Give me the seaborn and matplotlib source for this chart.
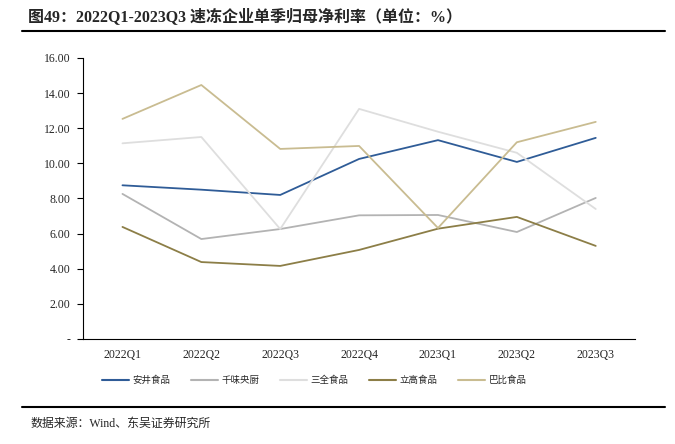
import pandas as pd
import numpy as np
import matplotlib
matplotlib.use("Agg")
import matplotlib.pyplot as plt
import seaborn as sns

# quarters and single-quarter net margin (%) per company
quarters = ["2022Q1", "2022Q2", "2022Q3", "2022Q4", "2023Q1", "2023Q2", "2023Q3"]
anjing = [8.75, 8.50, 8.20, 10.25, 11.32, 10.08, 11.45]
qianwei = [8.26, 5.69, 6.26, 7.04, 7.06, 6.09, 8.03]
sanquan = [11.14, 11.50, 6.26, 13.10, 11.80, 10.60, 7.40]
ligao = [6.38, 4.38, 4.16, 5.07, 6.28, 6.95, 5.30]
babi = [12.53, 14.46, 10.82, 10.99, 6.32, 11.20, 12.36]

names = ["安井食品", "千味央厨", "三全食品", "立高食品", "巴比食品"]
colors = ["#2F5C97", "#B3B3B3", "#DEDEDE", "#8C7E47", "#C9BC91"]

series = [anjing, qianwei, sanquan, ligao, babi]
df = pd.concat(
    [pd.DataFrame({"quarter": quarters, "value": v, "company": n}) for n, v in zip(names, series)],
    ignore_index=True,
)

sns.set_style("white")
plt.rcParams["font.family"] = ["Liberation Serif", "Noto Sans CJK SC"]

fig = plt.figure(figsize=(6.75, 4.44), dpi=100)
ax = fig.add_axes([0.123, 0.2365, 0.818, 0.633])

sns.lineplot(data=df, x="quarter", y="value", hue="company", palette=colors,
             hue_order=names, linewidth=1.3, ax=ax, legend=False)

ax.set_xlim(-0.5, 6.5)
ax.set_ylim(0, 16)
ax.set_yticks(np.arange(0, 17, 2))
ax.set_yticklabels(["-"] + [f"{v:.2f}" for v in np.arange(2, 17, 2)], fontsize=8.5)
ax.set_xticks(range(len(quarters)))
ax.set_xticklabels(quarters, fontsize=8.5)
ax.set_xticks(np.arange(-0.5, 7, 1), minor=True)
ax.tick_params(axis="x", which="major", length=0, pad=7)
ax.tick_params(axis="x", which="minor", length=4, width=0.8, direction="out", color="black")
ax.tick_params(axis="y", length=4, width=0.8, direction="out", color="black", left=True, pad=5)
ax.set_xlabel("")
ax.set_ylabel("")
for s in ["top", "right"]:
    ax.spines[s].set_visible(False)
for s in ["left", "bottom"]:
    ax.spines[s].set_color("black")
    ax.spines[s].set_linewidth(0.8)

handles = [plt.Line2D([], [], color=c, lw=1.5) for c in colors]
fig.legend(handles, names, loc="center", bbox_to_anchor=(0.466, 0.143), ncol=5,
           frameon=False, fontsize=6.8, handlelength=2.8, columnspacing=2.2,
           handletextpad=0.4)

# title, rules and source
fig.text(0.041, 0.962, "图49：2022Q1-2023Q3 速冻企业单季归母净利率（单位：%）",
         fontsize=11.5, fontweight="bold", va="center", ha="left")
fig.add_artist(plt.Line2D([0.033, 0.985], [0.930, 0.930], color="black", lw=1.5))
fig.add_artist(plt.Line2D([0.033, 0.985], [0.083, 0.083], color="black", lw=1.5))
fig.text(0.045, 0.045, "数据来源：Wind、东吴证券研究所", fontsize=8.6, va="center", ha="left")

fig.savefig("out.png", dpi=100)
